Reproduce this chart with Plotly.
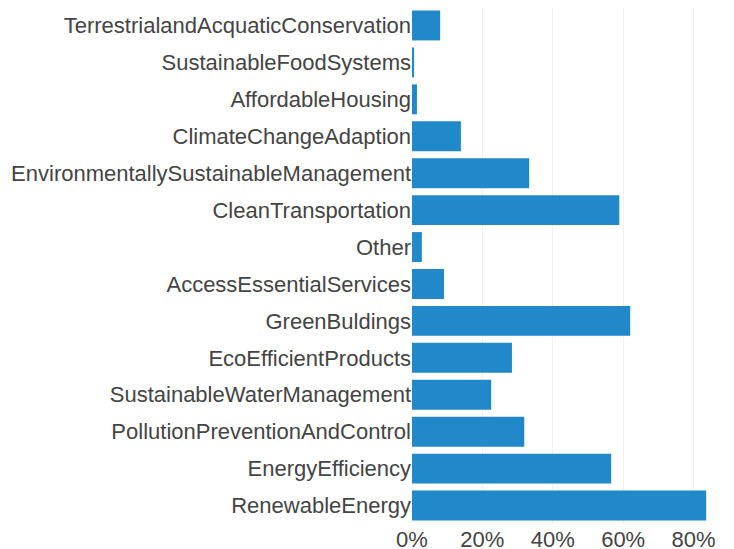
import plotly.graph_objects as go

categories = [
    "RenewableEnergy",
    "EnergyEfficiency",
    "PollutionPreventionAndControl",
    "SustainableWaterManagement",
    "EcoEfficientProducts",
    "GreenBuldings",
    "AccessEssentialServices",
    "Other",
    "CleanTransportation",
    "EnvironmentallySustainableManagement",
    "ClimateChangeAdaption",
    "AffordableHousing",
    "SustainableFoodSystems",
    "TerrestrialandAcquaticConservation",
]
values = [83.6, 56.6, 31.9, 22.5, 28.4, 62.0, 9.1, 2.8, 58.9, 33.3, 13.9, 1.4, 0.6, 8.0]
tick_vals = [0, 20, 40, 60, 80]
tick_text = ["0%", "20%", "40%", "60%", "80%"]

fig = go.Figure(
    go.Bar(
        x=values,
        y=categories,
        orientation="h",
        marker=dict(color="#2188c9", line=dict(width=0)),
    )
)
fig.update_layout(
    width=734,
    height=549,
    margin=dict(l=412, r=13, t=7, b=25, autoexpand=False),
    plot_bgcolor="white",
    paper_bgcolor="white",
    font=dict(family="Liberation Sans, Arial, sans-serif", size=22, color="#444"),
    bargap=0.19,
    showlegend=False,
)
fig.update_xaxes(
    tickmode="array",
    tickvals=tick_vals,
    ticktext=tick_text,
    showgrid=True,
    gridcolor="#f0f0f0",
    zeroline=False,
    showline=False,
    range=[0, 87.8],
)
fig.update_yaxes(showgrid=False, zeroline=False, showline=False, ticks="", automargin=False)
fig.write_html(
    "out.html",
    config={"displayModeBar": False},
    post_script="document.body.style.margin='0';document.body.style.overflow='hidden';",
)
